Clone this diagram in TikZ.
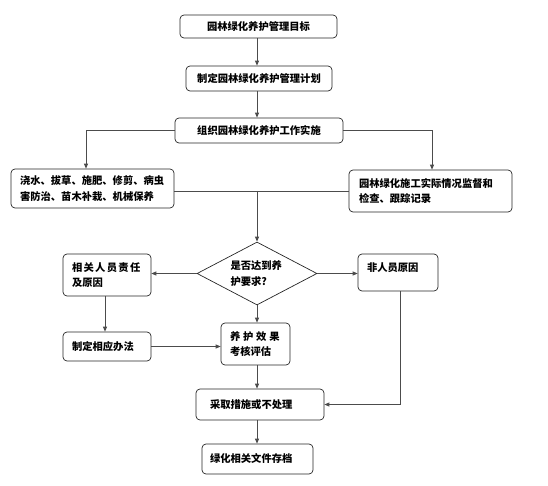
\documentclass[tikz,border=0pt]{standalone}
\usepackage{fontspec}
\newfontfamily\cjk{Noto Sans CJK SC}
\usetikzlibrary{arrows.meta,shapes.geometric}
\begin{document}
\begin{tikzpicture}[x=1pt,y=-1pt,
  every node/.style={font=\cjk\bfseries\fontsize{10.3}{15.5}\selectfont, text=black},
  bx/.style={draw=black!85, rounded corners=4pt, line width=0.7pt, inner sep=0pt},
  lbx/.style={bx, align=left},
  cbx/.style={bx, align=center},
  ln/.style={draw=black!70, line width=0.8pt},
  arr/.style={ln, -{Triangle[length=5pt,width=4pt]}}]
\useasboundingbox (0,0) rectangle (548,486);
\node[cbx, minimum width=157, minimum height=23] (b1) at (258.5,26.5) {园林绿化养护管理目标};
\node[cbx, minimum width=146, minimum height=25] (b2) at (259,78.5) {制定园林绿化养护管理计划};
\node[cbx, minimum width=168, minimum height=25] (b3) at (259,130.5) {组织园林绿化养护工作实施};
\node[lbx, minimum width=163, minimum height=39, text width=145] (b4) at (92.5,188.5) {\mbox{浇水、拔草、施肥、修剪、病虫}\\害防治、苗木补栽、机械保养};
\node[lbx, minimum width=163, minimum height=42, text width=143] (b5) at (430.5,191) {\mbox{园林绿化施工实际情况监督和}\\检查、跟踪记录};
\node[draw=black!85, line width=0.7pt, diamond, aspect=1.9, minimum width=120, minimum height=63, inner sep=0pt, text width=53, align=left] (d) at (257,273.5) {\mbox{是否达到养}\\护要求?};
\node[lbx, minimum width=88, minimum height=42, text width=70] (b6) at (107,275) {\mbox{相\hspace{1.3pt}关\hspace{1.3pt}人\hspace{1.3pt}员\hspace{1.3pt}责\hspace{1.3pt}任}\\及原因};
\node[lbx, minimum width=80, minimum height=37, text width=62] (b7) at (398,272.5) {非人员原因\\[-4pt]\mbox{}};
\node[lbx, minimum width=88, minimum height=29, text width=70] (b8) at (107,346.5) {制定相应办法};
\node[lbx, minimum width=69, minimum height=42, text width=51] (b9) at (255.5,344) {\mbox{养\hspace{2.8pt}护\hspace{2.8pt}效\hspace{2.8pt}果}\\考核评估};
\node[lbx, minimum width=128, minimum height=31, text width=100] (b10) at (260,404.5) {采取措施或不处理};
\node[lbx, minimum width=111, minimum height=30, text width=95] (b11) at (257.5,459) {绿化相关文件存档};
\coordinate (j) at (d.north |- b5.west);
\draw[arr] (d.north |- b1.south) -- (d.north |- b2.north);
\draw[arr] (d.north |- b2.south) -- (d.north |- b3.north);
\draw[arr] (b3.west) -| ([xshift=-6.5pt]b4.north);
\draw[arr] (b3.east) -| ([xshift=1.5pt]b5.north);
\draw[ln] (b4.east |- b5.west) -- (b5.west);
\draw[arr] (j) -- (d.north);
\draw[arr] (d.west) -- (d.west -| b6.east);
\draw[arr] (d.east) -- (d.east -| b7.west);
\draw[arr] (d.south) -- (d.south |- b9.north);
\draw[arr] ([xshift=-2pt]b6.south) -- ([xshift=-2pt]b8.north);
\draw[arr] (b8.east) -- (b8.east -| b9.west);
\draw[arr] (d.south |- b9.south) -- (d.south |- b10.north);
\draw[arr] ([xshift=2pt]b7.south) |- (b10.east);
\draw[arr] (d.south |- b10.south) -- (d.south |- b11.north);
\end{tikzpicture}
\end{document}
